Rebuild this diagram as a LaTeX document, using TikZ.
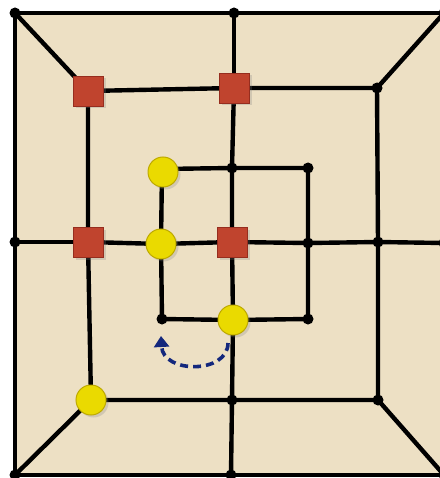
\documentclass[tikz,border=0pt]{standalone}
\usepackage{tikz}
\usetikzlibrary{arrows.meta,shadows}

\definecolor{boardbg}{RGB}{237,224,196}
\definecolor{redpiece}{RGB}{192,68,46}
\definecolor{redrim}{RGB}{150,45,30}
\definecolor{yellowpiece}{RGB}{234,218,0}
\definecolor{yellowrim}{RGB}{190,170,0}
\definecolor{movecol}{RGB}{20,40,125}

\tikzset{
  board/.style={line width=4.4pt,black,line join=round},
  redman/.style={rectangle,fill=redpiece,draw=redrim,line width=0.8pt,minimum size=30pt,inner sep=0pt,
    drop shadow={opacity=0.25,shadow xshift=2.5pt,shadow yshift=-2.5pt}},
  yellowman/.style={circle,fill=yellowpiece,draw=yellowrim,line width=1pt,minimum size=30pt,inner sep=0pt,
    drop shadow={opacity=0.25,shadow xshift=2.5pt,shadow yshift=-2.5pt}},
  move/.style={movecol,line width=3.6pt,dash pattern=on 8pt off 5pt,-{Triangle[length=11pt,width=15pt]}}
}

\begin{document}
\begin{tikzpicture}[x=1pt,y=-1pt]
\useasboundingbox (0,0) rectangle (439,478);
\fill[boardbg] (15,13) rectangle (445,475);

% outer square
\coordinate (oTL) at (15,13);  \coordinate (oT) at (234,13);  \coordinate (oTR) at (444,13);
\coordinate (oR) at (444,243); \coordinate (oBR) at (444,475); \coordinate (oB) at (231,475);
\coordinate (oBL) at (15,475); \coordinate (oL) at (15,242);
% middle square
\coordinate (mTL) at (88,91);  \coordinate (mT) at (234,88);  \coordinate (mTR) at (377,88);
\coordinate (mR) at (378,242); \coordinate (mBR) at (378,400); \coordinate (mB) at (232,400);
\coordinate (mBL) at (91,400); \coordinate (mL) at (88,242);
% inner square
\coordinate (iTL) at (162,169); \coordinate (iT) at (232,168); \coordinate (iTR) at (308,168);
\coordinate (iR) at (308,243);  \coordinate (iBR) at (308,319); \coordinate (iB) at (233,320);
\coordinate (iBL) at (162,319); \coordinate (iL) at (161,244);
\coordinate (ctr) at (232,242);

\draw[board] (oTL) -- (oT) -- (oTR) -- (oR) -- (oBR) -- (oB) -- (oBL) -- (oL) -- cycle;
\draw[board] (mTL) -- (mT) -- (mTR) -- (mR) -- (mBR) -- (mB) -- (mBL) -- (mL) -- cycle;
\draw[board] (iTL) -- (iT) -- (iTR) -- (iR) -- (iBR) -- (iB) -- (iBL) -- (iL) -- cycle;
\foreach \c in {TL,T,TR,R,BR,B,BL,L} \draw[board] (o\c) -- (m\c);
\foreach \c in {T,R,B,L} \draw[board] (m\c) -- (i\c) -- (ctr);

% junction dots
\foreach \r in {o,m,i}
  \foreach \c in {TL,T,TR,R,BR,B,BL,L}
    \fill (\r\c) circle (5.5pt);

% red men
\node[redman] (r1) at (mTL) {};
\node[redman] (r2) at (mT) {};
\node[redman] (r3) at (mL) {};
\node[redman] (r4) at (ctr) {};
% yellow men
\node[yellowman] (y1) at (163,172) {};
\node[yellowman] (y2) at (iL) {};
\node[yellowman] (y3) at (iB) {};
\node[yellowman] (y4) at (mBL) {};

% the move
\coordinate (mvfrom) at (228,343);
\coordinate (mvto) at (161,336);
\draw[move] (mvfrom) .. controls (228,374) and (163,374) .. (mvto);
\end{tikzpicture}
\end{document}
